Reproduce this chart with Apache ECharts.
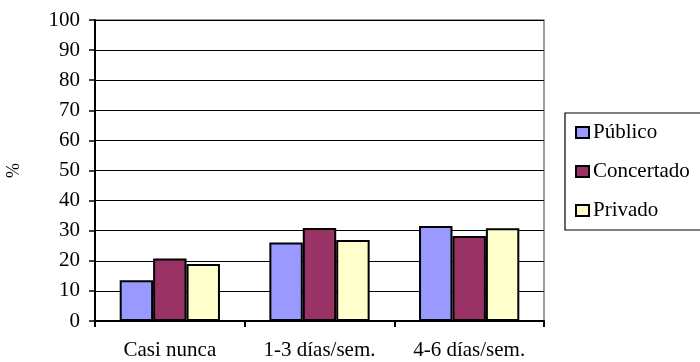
<!DOCTYPE html>
<html>
<head>
<meta charset="utf-8">
<script src="https://cdn.jsdelivr.net/npm/echarts@6/dist/echarts.min.js"></script>
<style>
  html, body { margin: 0; padding: 0; background: #fff; }
  #chart { width: 700px; height: 362px; }
</style>
</head>
<body>
<div id="chart"></div>
<script>
// Frequency categories and percentage per school type
const categories = ['Casi nunca', '1-3 días/sem.', '4-6 días/sem.'];
const publico = [13.5, 26.1, 31.6];
const concertado = [20.8, 30.9, 28.2];
const privado = [18.9, 26.9, 30.8];
const yTicks = { min: 0, max: 100, interval: 10 };

const serif = 'Liberation Serif';
const barStyle = (color) => ({ color: color, borderColor: '#000', borderWidth: 2 });

const chart = echarts.init(document.getElementById('chart'), null, { renderer: 'canvas' });
chart.setOption({
  animation: false,
  textStyle: { fontFamily: serif },
  grid: {
    left: 95, right: 156, top: 20, bottom: 41,
    containLabel: false, outerBoundsMode: 'none',
    show: true, borderColor: '#808080', borderWidth: 1.5, backgroundColor: '#fff'
  },
  legend: {
    orient: 'vertical',
    left: 565, top: 113,
    itemWidth: 13, itemHeight: 11, itemGap: 18,
    padding: [9, 12, 9, 10],
    borderColor: '#000', borderWidth: 1.2,
    icon: 'rect',
    textStyle: { fontFamily: serif, fontSize: 21, lineHeight: 21, color: '#000', padding: [0, 0, 0, -1] },
    data: ['Público', 'Concertado', 'Privado']
  },
  xAxis: {
    type: 'category',
    data: categories,
    axisLine: { lineStyle: { color: '#000', width: 2 } },
    axisTick: { show: true, inside: false, length: 6, lineStyle: { color: '#000', width: 2 } },
    axisLabel: { fontFamily: serif, fontSize: 21, color: '#000', margin: 19 }
  },
  yAxis: {
    type: 'value',
    min: yTicks.min, max: yTicks.max, interval: yTicks.interval,
    name: '%', nameLocation: 'middle', nameGap: 72, nameRotate: 90,
    nameTextStyle: { fontFamily: serif, fontSize: 18, color: '#000' },
    axisLine: { show: true, lineStyle: { color: '#000', width: 2 } },
    axisTick: { show: true, inside: false, length: 6, lineStyle: { color: '#000', width: 1.5 } },
    axisLabel: { fontFamily: serif, fontSize: 21, color: '#000', margin: 15 },
    splitLine: { show: true, lineStyle: { color: '#000', width: 1.2 } }
  },
  series: [
    { name: 'Público', type: 'bar', data: publico, barGap: '0%', barCategoryGap: '33%', itemStyle: barStyle('#9999ff') },
    { name: 'Concertado', type: 'bar', data: concertado, barGap: '0%', barCategoryGap: '33%', itemStyle: barStyle('#993366') },
    { name: 'Privado', type: 'bar', data: privado, barGap: '0%', barCategoryGap: '33%', itemStyle: barStyle('#ffffcc') }
  ]
});
</script>
</body>
</html>
